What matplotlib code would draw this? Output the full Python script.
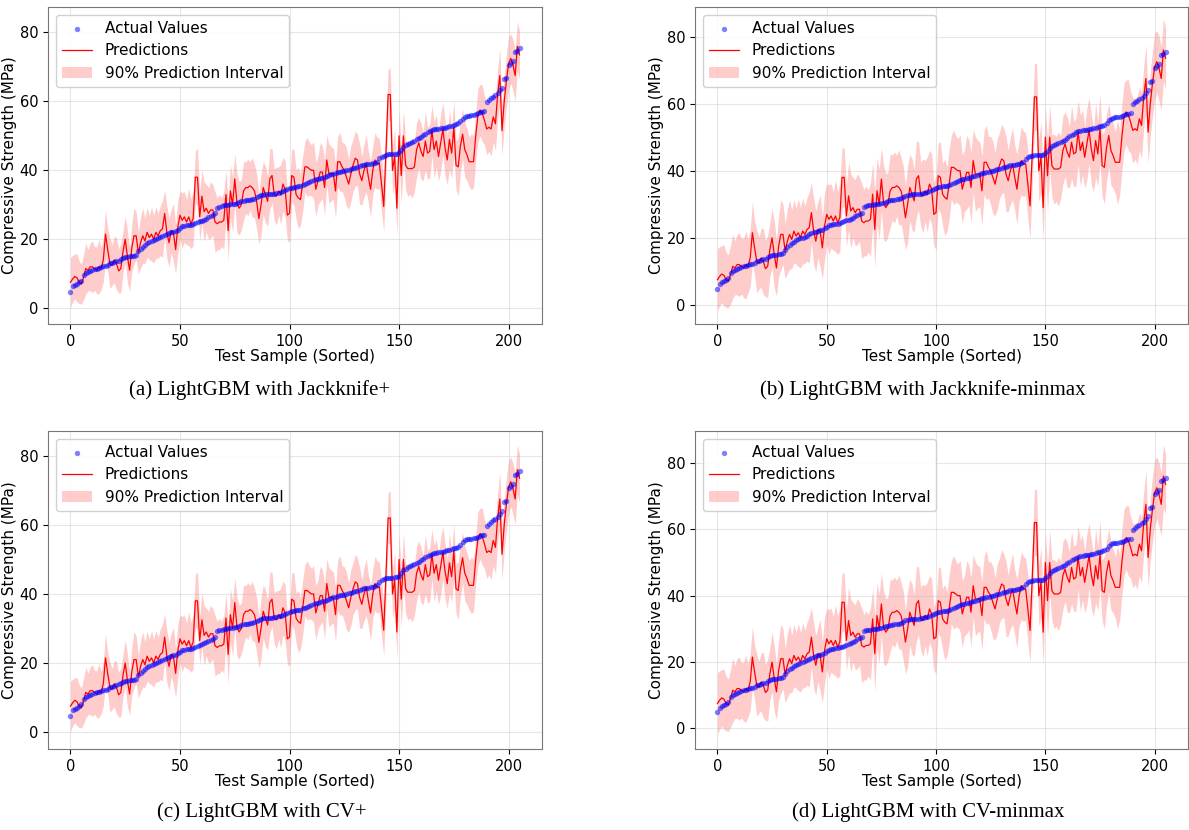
import matplotlib.pyplot as plt
import numpy as np

# sorted test targets (MPa)
actual = [
    4.8, 6.3, 6.8, 7.0, 7.5, 8.0, 9.5, 10.2, 10.5, 10.8,
    11.0, 11.3, 11.5, 11.7, 11.9, 12.1, 12.3, 12.6, 13.0, 13.2,
    13.4, 13.6, 13.8, 14.2, 14.6, 14.8, 14.9, 15.0, 15.1, 15.2,
    15.5, 16.5, 17.2, 17.8, 18.3, 18.8, 19.2, 19.5, 19.8, 20.0,
    20.3, 20.6, 21.0, 21.3, 21.6, 21.8, 22.0, 22.2, 22.4, 22.8,
    23.3, 23.7, 23.9, 24.0, 24.1, 24.2, 24.4, 24.6, 24.9, 25.2,
    25.4, 25.7, 26.0, 26.4, 26.8, 27.1, 27.5, 29.2, 29.5, 29.7,
    29.8, 29.9, 30.0, 30.1, 30.2, 30.3, 30.5, 30.8, 31.0, 31.2,
    31.3, 31.4, 31.5, 31.6, 31.8, 32.2, 32.6, 32.8, 32.9, 33.0,
    33.0, 33.1, 33.1, 33.2, 33.3, 33.5, 33.7, 33.9, 34.2, 34.5,
    34.8, 35.0, 35.2, 35.3, 35.4, 35.5, 35.8, 36.0, 36.3, 36.6,
    36.9, 37.2, 37.4, 37.5, 37.7, 37.9, 38.1, 38.3, 38.5, 38.8,
    39.0, 39.2, 39.4, 39.6, 39.7, 39.8, 40.0, 40.2, 40.4, 40.6,
    40.8, 41.0, 41.2, 41.4, 41.6, 41.7, 41.8, 41.9, 42.0, 42.2,
    42.5, 43.5, 44.0, 44.3, 44.5, 44.6, 44.7, 44.7, 44.8, 44.8,
    45.2, 46.0, 46.8, 47.3, 47.7, 48.0, 48.3, 48.6, 49.0, 49.3,
    49.8, 50.2, 50.6, 51.0, 51.4, 51.7, 51.9, 52.0, 52.1, 52.2,
    52.3, 52.4, 52.6, 52.8, 53.0, 53.2, 53.4, 53.6, 54.2, 55.0,
    55.5, 55.8, 55.9, 56.0, 56.1, 56.3, 56.5, 56.8, 57.0, 57.2,
    59.8, 60.4, 60.9, 61.3, 61.8, 62.3, 63.2, 64.0, 66.5, 66.8,
    70.7, 71.2, 71.8, 74.4, 74.7, 75.5,
]

# LightGBM predictions (same model in every panel)
predicted = [
    7.5, 8.5, 9.2, 8.8, 7.5, 7.0, 9.0, 11.5, 11.0, 12.0,
    12.0, 11.5, 11.0, 12.0, 11.5, 14.0, 21.5, 17.0, 13.0, 12.5,
    14.0, 13.0, 10.8, 11.5, 16.5, 20.0, 15.0, 11.0, 17.5, 21.0,
    21.0, 16.0, 19.0, 21.0, 19.5, 22.0, 20.5, 21.5, 20.0, 22.0,
    21.0, 22.5, 23.0, 27.5, 22.0, 19.0, 22.5, 22.0, 17.0, 23.5,
    27.0, 25.5, 26.5, 25.0, 26.5, 24.5, 26.0, 38.0, 38.0, 26.5,
    32.5, 28.0, 29.0, 27.5, 28.5, 28.5, 25.0, 24.5, 25.0, 25.0,
    25.5, 33.0, 22.5, 34.0, 30.0, 37.5, 30.5, 29.0, 30.0, 34.0,
    35.0, 35.0, 35.5, 35.0, 34.0, 31.0, 26.0, 30.0, 35.0, 33.0,
    31.0, 37.5, 38.5, 33.0, 32.5, 34.0, 33.0, 36.0, 34.5, 27.0,
    27.5, 38.5, 38.0, 33.0, 32.0, 31.5, 36.0, 41.0, 41.0, 40.5,
    40.0, 40.0, 34.5, 37.0, 39.5, 39.5, 35.0, 43.0, 39.0, 39.0,
    39.0, 34.0, 42.5, 42.5, 41.0, 40.0, 38.0, 36.0, 39.0, 41.5,
    43.5, 43.0, 39.0, 37.0, 40.0, 42.0, 38.0, 34.5, 40.0, 43.0,
    42.0, 42.0, 36.0, 29.5, 45.0, 62.0, 62.0, 40.0, 44.0, 29.0,
    50.0, 38.5, 50.0, 41.5, 40.5, 40.5, 40.5, 41.0, 46.0, 48.0,
    45.5, 44.0, 48.5, 45.0, 45.5, 51.5, 46.0, 48.5, 44.0, 48.0,
    52.0, 46.5, 43.0, 49.0, 45.0, 52.5, 41.5, 41.0, 47.0, 50.5,
    46.0, 44.5, 42.5, 42.5, 42.5, 50.0, 56.0, 57.5, 56.5, 54.5,
    52.0, 52.5, 52.0, 55.5, 53.5, 62.0, 67.5, 51.5, 60.0, 66.0,
    71.0, 72.5, 70.5, 67.5, 76.0, 73.5,
]

# half widths of the 90% interval, "+" methods
halfwidth_plus = [
    7.2, 6.8, 6.5, 7.0, 6.2, 5.8, 6.6, 7.4, 6.0, 6.9,
    7.5, 6.3, 6.8, 7.9, 6.1, 6.5, 7.0, 6.2, 7.3, 5.9,
    6.7, 7.6, 6.4, 7.1, 6.0, 6.8, 7.7, 6.3, 7.0, 8.1,
    6.9, 6.2, 7.4, 8.0, 6.6, 7.2, 6.4, 7.8, 6.9, 7.5,
    6.5, 7.3, 8.2, 6.8, 7.6, 7.0, 6.3, 8.4, 7.1, 7.7,
    6.9, 8.0, 7.4, 6.6, 8.3, 7.2, 7.9, 7.6, 8.5, 7.0,
    7.8, 8.6, 6.9, 7.5, 8.2, 7.3, 8.8, 7.6, 8.0, 7.1,
    8.4, 7.0, 8.9, 7.6, 8.1, 7.2, 8.6, 7.8, 7.3, 8.5,
    7.5, 8.2, 7.0, 8.7, 7.7, 8.0, 7.4, 8.9, 7.6, 8.3,
    7.2, 8.8, 7.9, 7.4, 8.4, 7.0, 8.6, 7.8, 8.1, 7.3,
    8.5, 7.6, 8.2, 7.1, 8.9, 7.5, 8.0, 7.3, 8.6, 7.7,
    7.4, 8.3, 7.9, 7.0, 8.5, 7.6, 8.1, 7.2, 8.7, 7.8,
    7.5, 8.0, 7.3, 8.6, 7.1, 7.9, 8.4, 7.2, 8.2, 7.6,
    8.0, 7.4, 8.8, 7.1, 7.7, 8.3, 7.5, 8.1, 7.0, 7.9,
    7.6, 7.2, 8.0, 7.4, 7.5, 7.3, 7.8, 7.1, 8.2, 7.7,
    7.3, 8.4, 7.6, 7.1, 8.0, 7.5, 8.6, 7.2, 7.9, 7.4,
    8.1, 7.0, 8.5, 7.6, 7.8, 7.3, 8.2, 7.5, 7.1, 8.3,
    7.6, 8.0, 7.2, 8.6, 7.4, 7.9, 7.1, 8.4, 7.7, 7.3,
    8.0, 7.5, 7.2, 8.1, 7.6, 7.0, 7.8, 7.4, 8.2, 7.1,
    7.5, 7.0, 7.8, 7.3, 7.6, 7.1, 7.9, 7.2, 7.4, 7.6,
    7.8, 7.1, 7.5, 7.3, 7.2, 7.0,
]

# half widths of the 90% interval, "minmax" methods
halfwidth_minmax = [
    9.3, 8.8, 8.5, 9.1, 8.2, 7.9, 8.7, 9.6, 8.0, 9.0,
    9.5, 8.3, 8.9, 10.1, 8.0, 8.6, 9.2, 8.1, 9.4, 7.8,
    8.8, 9.9, 8.4, 9.3, 8.0, 8.9, 10.0, 8.3, 9.1, 10.4,
    9.0, 8.2, 9.6, 10.3, 8.7, 9.4, 8.4, 10.1, 9.0, 9.8,
    8.6, 9.5, 10.6, 8.9, 9.9, 9.1, 8.3, 10.8, 9.3, 10.0,
    9.0, 10.4, 9.6, 8.7, 10.7, 9.4, 10.2, 9.0, 8.6, 9.2,
    10.1, 11.1, 9.0, 9.8, 10.6, 9.5, 11.3, 9.9, 10.4, 9.3,
    10.9, 9.2, 11.4, 9.9, 10.5, 9.4, 11.1, 10.1, 9.5, 11.0,
    9.7, 10.6, 9.1, 11.2, 10.0, 10.4, 9.6, 11.4, 9.9, 10.7,
    9.4, 11.3, 10.2, 9.6, 10.9, 9.1, 11.1, 10.1, 10.5, 9.5,
    11.0, 9.8, 10.6, 9.2, 11.4, 9.7, 10.4, 9.5, 11.1, 10.0,
    9.6, 10.7, 10.2, 9.1, 11.0, 9.8, 10.5, 9.4, 11.2, 10.1,
    9.7, 10.4, 9.5, 11.1, 9.2, 10.2, 10.9, 9.4, 10.6, 9.8,
    10.4, 9.6, 11.3, 9.2, 10.0, 10.7, 9.7, 10.5, 9.1, 10.2,
    9.8, 9.3, 10.4, 9.6, 9.9, 9.9, 10.1, 9.2, 10.6, 10.0,
    9.5, 10.9, 9.8, 9.2, 10.4, 9.7, 11.1, 9.3, 10.2, 9.6,
    10.5, 9.1, 11.0, 9.8, 10.1, 9.5, 10.6, 9.7, 9.2, 10.7,
    9.8, 10.4, 9.3, 11.1, 9.6, 10.2, 9.2, 10.9, 10.0, 9.5,
    10.4, 9.7, 9.3, 12.5, 9.8, 10.0, 10.1, 9.6, 10.6, 9.2,
    9.7, 9.1, 10.1, 9.5, 9.8, 9.2, 10.2, 9.3, 9.6, 9.8,
    10.1, 9.2, 9.7, 9.5, 9.4, 9.1,
]

captions = [
    "(a) LightGBM with Jackknife+",
    "(b) LightGBM with Jackknife-minmax",
    "(c) LightGBM with CV+",
    "(d) LightGBM with CV-minmax",
]
panel_widths = [halfwidth_plus, halfwidth_minmax, halfwidth_plus, halfwidth_minmax]

W, H = 1189, 830
fig = plt.figure(figsize=(W / 100, H / 100), dpi=100)
plt.rcParams['font.size'] = 10.5

# axes boxes in pixels: left, top, right, bottom
boxes = [(48, 7, 542, 324), (695, 7, 1188, 324),
         (48, 431, 542, 749), (695, 431, 1188, 749)]
ylims = [(-4.6, 87.4), (-5.7, 88.8), (-4.9, 87.2), (-6.2, 89.6)]
caption_pos = [(260, 390), (923, 390), (262, 812), (928, 812)]

x = np.arange(len(actual))
y_true = np.array(actual)
y_pred = np.array(predicted)

for i in range(4):
    l, t, r, b = boxes[i]
    ax = fig.add_axes([l / W, 1 - b / H, (r - l) / W, (b - t) / H])
    hw = np.array(panel_widths[i])
    ax.fill_between(x, y_pred - hw, y_pred + hw, color='red', alpha=0.2,
                    linewidth=0, label='90% Prediction Interval')
    ax.plot(x, y_pred, color='red', linewidth=0.9, label='Predictions')
    ax.scatter(x, y_true, color='blue', alpha=0.5, s=15, linewidths=0,
               label='Actual Values', zorder=3)
    ax.set_xlim(-10.25, 215.25)
    ax.set_ylim(*ylims[i])
    ax.set_xlabel('Test Sample (Sorted)', fontsize=11, labelpad=0)
    ax.set_ylabel('Compressive Strength (MPa)', fontsize=11, labelpad=2)
    ax.tick_params(labelsize=10.5)
    ax.grid(True, alpha=0.3)
    for sp in ax.spines.values():
        sp.set_color('#777777')
    handles, labels = ax.get_legend_handles_labels()
    order = [2, 1, 0]
    ax.legend([handles[k] for k in order], [labels[k] for k in order],
              loc='upper left', fontsize=11, framealpha=0.9)
    cx, cy = caption_pos[i]
    fig.text(cx / W, 1 - cy / H, captions[i], ha='center', va='center',
             family='Liberation Serif', fontsize=15)

plt.savefig('out.png', dpi=100)
